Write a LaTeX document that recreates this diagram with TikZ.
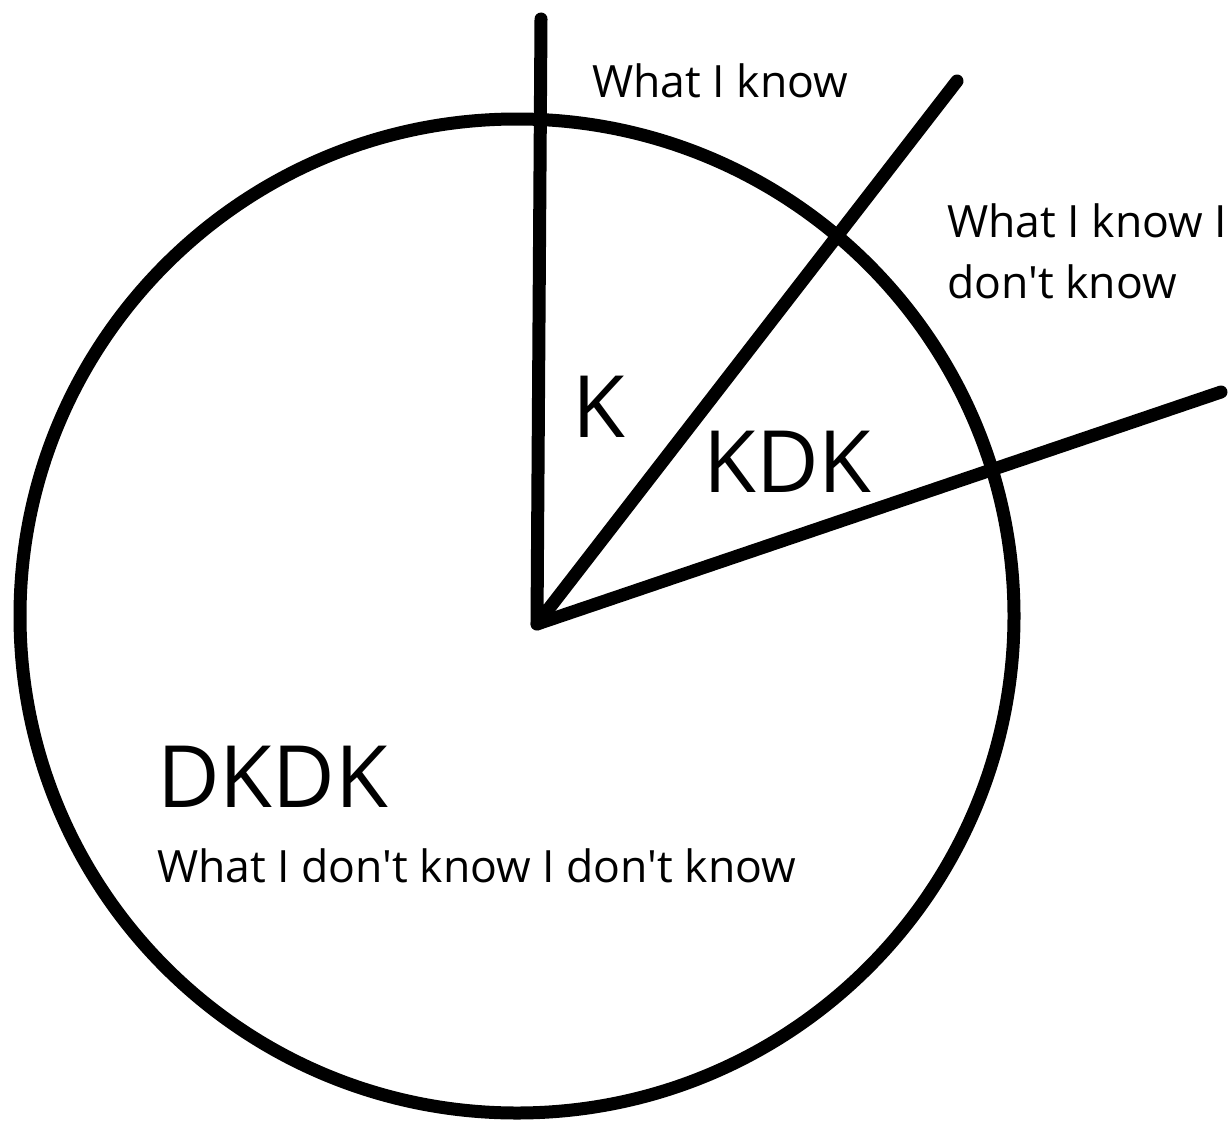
\documentclass[tikz,border=0pt]{standalone}
\usepackage{fontspec}
\newfontfamily\osans{Open Sans}
\begin{document}
\begin{tikzpicture}[x=1pt,y=-1pt,
  stroke/.style={line width=13pt,line cap=round,line join=round},
  lbl/.style={inner sep=0pt,anchor=base west,font=\osans\fontsize{44.5}{61}\selectfont},
  big/.style={inner sep=0pt,anchor=base west,font=\osans\fontsize{86}{96}\selectfont}]
\useasboundingbox (0,0) rectangle (1231,1124);
\coordinate (c) at (517,616);
\coordinate (hub) at (537,624);
\coordinate (t1) at (541,19);
\coordinate (t2) at (957,81);
\coordinate (t3) at (1221,392);
\draw[stroke] (c) circle[radius=497];
\draw[stroke] (t1) -- (hub) -- (t2);
\draw[stroke] (hub) -- (t3);
\node[lbl] (wk) at (592,97) {What I know};
\node[lbl,align=left] (wkdk) at (947,298) {What I know I\\don't know};
\node[big] (k) at (572,437) {K};
\node[big] (kdk) at (703,492) {KDK};
\node[big] (dkdk) at (157,807) {DKDK};
\node[lbl] (wdkdk) at (157,882) {What I don't know I don't know};
\end{tikzpicture}
\end{document}
